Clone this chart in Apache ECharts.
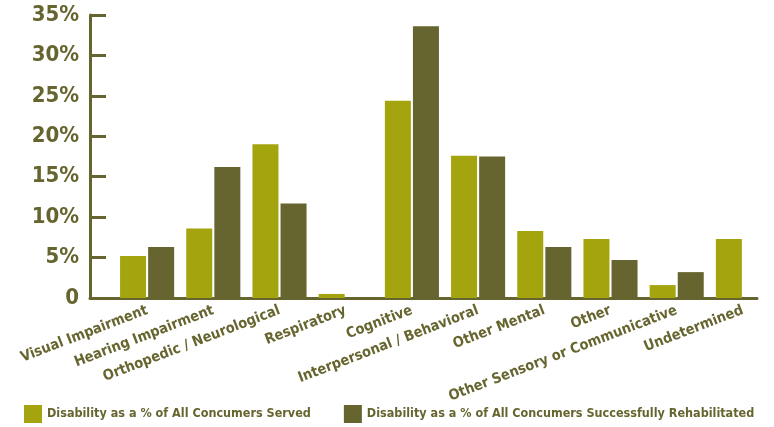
<!DOCTYPE html>
<html>
<head>
<meta charset="utf-8">
<style>
  html, body { margin: 0; padding: 0; background: #ffffff; }
  #chart { width: 774px; height: 427px; }
</style>
<script src="https://cdn.jsdelivr.net/npm/echarts@6/dist/echarts.min.js"></script>
</head>
<body>
<div id="chart"></div>
<script>
// Disability categories and shares (%)
const categories = [
  'Visual Impairment',
  'Hearing Impairment',
  'Orthopedic / Neurological',
  'Respiratory',
  'Cognitive',
  'Interpersonal / Behavioral',
  'Other Mental',
  'Other',
  'Other Sensory or Communicative',
  'Undetermined'
];
const servedName = 'Disability as a % of All Concumers Served';
const rehabName = 'Disability as a % of All Concumers Successfully Rehabilitated';
const served = [5.2, 8.6, 19.0, 0.5, 24.4, 17.6, 8.3, 7.3, 1.6, 7.3];
const rehabilitated = [6.3, 16.2, 11.7, 0.1, 33.6, 17.5, 6.3, 4.7, 3.2, 0];
const yTicks = { min: 0, max: 35, interval: 5 };

const olive = '#66652f';
const lime = '#a3a40e';
const font = '"Liberation Sans Narrow", "DejaVu Sans Condensed", "Liberation Sans", sans-serif';

const chart = echarts.init(document.getElementById('chart'), null, { renderer: 'canvas' });

chart.setOption({
  animation: false,
  backgroundColor: '#ffffff',
  textStyle: { fontFamily: font },
  legend: {
    left: 24,
    top: 405,
    padding: 0,
    itemWidth: 18,
    itemHeight: 18,
    itemGap: 33,
    icon: 'rect',
    textStyle: { color: olive, fontSize: 12.5, fontWeight: 'bold', fontFamily: font },
    data: [servedName, rehabName]
  },
  grid: [
    // frame grid: carries the value axis and the baseline
    { left: 90, right: 17, top: 15, bottom: 129, outerBoundsMode: 'none', containLabel: false },
    // bar grid: category bands for the grouped bars
    { left: 114, width: 662, top: 15, bottom: 129, outerBoundsMode: 'none', containLabel: false }
  ],
  xAxis: [
    {
      type: 'category',
      gridIndex: 0,
      data: categories,
      axisLine: { show: true, lineStyle: { color: olive, width: 3 } },
      axisTick: { show: false },
      axisLabel: { show: false },
      splitLine: { show: false }
    },
    {
      type: 'category',
      gridIndex: 1,
      data: categories,
      axisLine: { show: false },
      axisTick: { show: false },
      splitLine: { show: false },
      axisLabel: {
        interval: 0,
        rotate: 21,
        margin: 12,
        color: olive,
        fontSize: 14.5,
        fontWeight: 'bold',
        fontFamily: font
      }
    }
  ],
  yAxis: [
    {
      type: 'value',
      gridIndex: 0,
      min: yTicks.min,
      max: yTicks.max,
      interval: yTicks.interval,
      axisLine: { show: true, lineStyle: { color: olive, width: 3 } },
      axisTick: { show: true, inside: true, length: 16, lineStyle: { color: olive, width: 3 } },
      splitLine: { show: false },
      axisLabel: {
        margin: 11,
        color: olive,
        fontSize: 22,
        fontWeight: 'bold',
        fontFamily: font,
        formatter: v => (v === 0 ? '0' : v + '%')
      }
    },
    {
      type: 'value',
      gridIndex: 1,
      min: yTicks.min,
      max: yTicks.max,
      interval: yTicks.interval,
      show: false
    }
  ],
  series: [
    {
      name: servedName,
      type: 'bar',
      xAxisIndex: 1,
      yAxisIndex: 1,
      data: served,
      barWidth: 26,
      barGap: '8%',
      itemStyle: { color: lime }
    },
    {
      name: rehabName,
      type: 'bar',
      xAxisIndex: 1,
      yAxisIndex: 1,
      data: rehabilitated,
      barWidth: 26,
      barGap: '8%',
      itemStyle: { color: olive }
    }
  ]
});
</script>
</body>
</html>
